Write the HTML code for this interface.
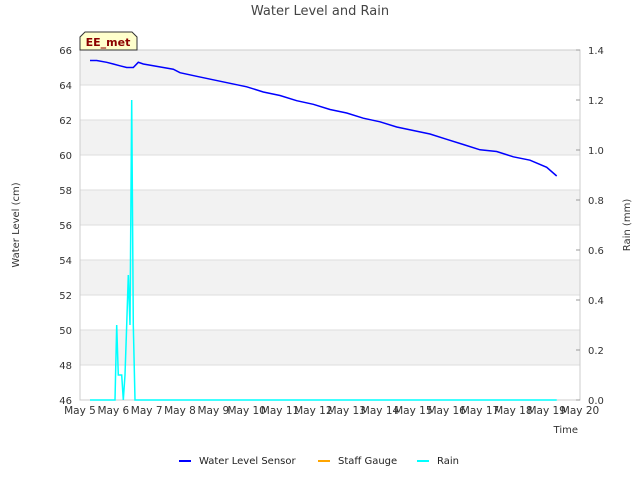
<!DOCTYPE html>
<html><head><meta charset="utf-8"><style>
body{margin:0;background:#fff;font-family:"DejaVu Sans","Liberation Sans",sans-serif}
svg text{font-family:"DejaVu Sans","Liberation Sans",sans-serif}
</style></head><body>
<svg id="c" width="640" height="480" xmlns="http://www.w3.org/2000/svg">
<text x="320" y="15" text-anchor="middle" font-size="13" fill="#444">Water Level and Rain</text>
<g id="bands"></g><g id="grid"></g>
<rect x="80" y="50" width="500" height="350" fill="none" stroke="#ccc"/>
<g id="series"></g><g id="axes"></g>
<text x="19" y="225" transform="rotate(-90 19 225)" text-anchor="middle" font-size="10" fill="#333">Water Level (cm)</text>
<text x="630" y="225" transform="rotate(-90 630 225)" text-anchor="middle" font-size="10" fill="#333">Rain (mm)</text>
<text x="578" y="433" text-anchor="end" font-size="10" fill="#333">Time</text>
<g>
<path d="M80,50 L80,37 L85,32 L132,32 L137,37 L137,50 Z" fill="#ffffcc" stroke="#333"/>
<text x="108" y="46" text-anchor="middle" font-size="11" font-weight="bold" fill="#8b0000">EE_met</text></g>
<g>
<g><line x1="179" y1="461" x2="191" y2="461" stroke="#0000ff" stroke-width="2"/><text x="199" y="464" font-size="10" fill="#222">Water Level Sensor</text></g>
<g><line x1="318" y1="461" x2="330" y2="461" stroke="#ffa500" stroke-width="2"/><text x="338" y="464" font-size="10" fill="#222">Staff Gauge</text></g>
<g><line x1="417" y1="461" x2="429" y2="461" stroke="#00ffff" stroke-width="2"/><text x="437" y="464" font-size="10" fill="#222">Rain</text></g>
</g>
</svg>
<script>
const xTicks=["May 5","May 6","May 7","May 8","May 9","May 10","May 11","May 12","May 13","May 14","May 15","May 16","May 17","May 18","May 19","May 20"];
const yTicks=[46,48,50,52,54,56,58,60,62,64,66];
const y2Ticks=[0.0,0.2,0.4,0.6,0.8,1.0,1.2,1.4];
const wlDays=[0.3,0.5,0.8,1.0,1.2,1.4,1.6,1.75,1.9,2.2,2.5,2.8,3.0,3.5,4.0,4.5,5.0,5.5,6.0,6.5,7.0,7.5,8.0,8.5,9.0,9.5,10.0,10.5,11.0,11.5,12.0,12.5,13.0,13.5,14.0,14.3];
const wlVals=[65.4,65.4,65.3,65.2,65.1,65.0,65.0,65.3,65.2,65.1,65.0,64.9,64.7,64.5,64.3,64.1,63.9,63.6,63.4,63.1,62.9,62.6,62.4,62.1,61.9,61.6,61.4,61.2,60.9,60.6,60.3,60.2,59.9,59.7,59.3,58.8];
const rainDays=[0.3,1.05,1.1,1.15,1.2,1.25,1.3,1.35,1.4,1.45,1.5,1.55,1.6,1.65,1.7,1.8,14.3];
const rainVals=[0,0,0.3,0.1,0.1,0.1,0,0.1,0.3,0.5,0.3,1.2,0.3,0,0,0,0];
const NS="http://www.w3.org/2000/svg";
const X0=80,X1=580,YT=50,YB=400;
const xs=d=>X0+d*(X1-X0)/15;
const ys=v=>YB-(v-46)*(YB-YT)/20;
const y2s=v=>YB-v*(YB-YT)/1.4;
function mk(t,a,p){const e=document.createElementNS(NS,t);for(const k in a)e.setAttribute(k,a[k]);document.getElementById(p).appendChild(e);return e;}
for(let i=0;i<yTicks.length-1;i++){if(i%2===1){const r=mk('rect',{x:X0,y:ys(yTicks[i+1]),width:X1-X0,height:ys(yTicks[i])-ys(yTicks[i+1]),fill:'#f2f2f2'},'bands');

}}
yTicks.forEach(v=>{const l=mk('line',{x1:X0,x2:X1,y1:ys(v),y2:ys(v),stroke:'#ddd'},'grid');


const t=mk('text',{x:X0-8,y:ys(v)+4,'text-anchor':'end','font-size':10,fill:'#333'},'axes');t.textContent=v;

});
y2Ticks.forEach(v=>{const t=mk('text',{x:X1+8,y:y2s(v)+4,'font-size':10,fill:'#333'},'axes');t.textContent=v.toFixed(1);


mk('line',{x1:X1,x2:X1-4,y1:y2s(v),y2:y2s(v),stroke:'#999'},'axes');});
xTicks.forEach((s,i)=>{const t=mk('text',{x:xs(i),y:414,'text-anchor':'middle','font-size':10.5,fill:'#333'},'axes');t.textContent=s;

});
let d='';wlDays.forEach((x,i)=>{d+=(i?'L':'M')+xs(x).toFixed(1)+','+ys(wlVals[i]).toFixed(1);});
const wl=mk('path',{d:d,fill:'none',stroke:'#0000ff','stroke-width':1.5},'series');


let r='';rainDays.forEach((x,i)=>{r+=(i?'L':'M')+xs(x).toFixed(1)+','+y2s(rainVals[i]).toFixed(1);});
const rl=mk('path',{d:r,fill:'none',stroke:'#00ffff','stroke-width':1.5},'series');


</script>
</body></html>
